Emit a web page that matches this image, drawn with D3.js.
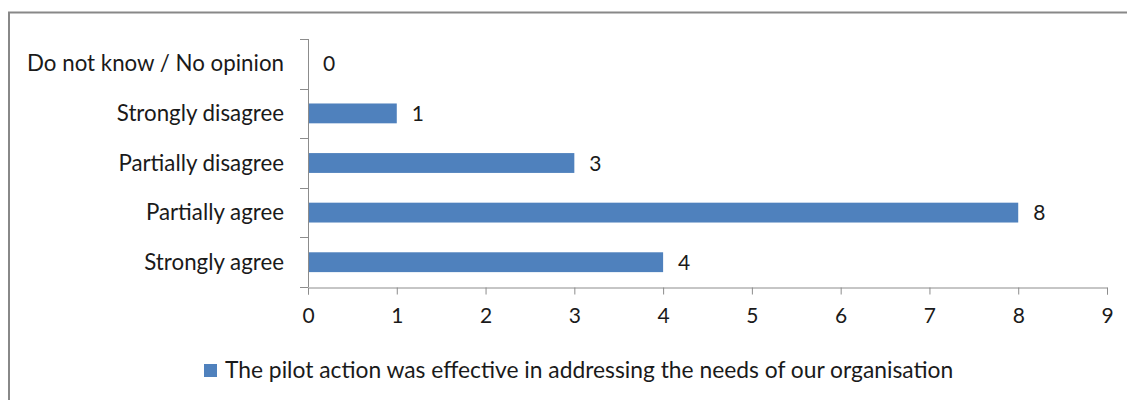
<!DOCTYPE html>
<html>
<head>
<meta charset="utf-8">
<script src="https://cdn.jsdelivr.net/npm/d3@7"></script>
<style>
  html, body { margin: 0; padding: 0; background: #fff; }
  svg { display: block; }
  text { font-family: Lato, "Open Sans", sans-serif; fill: #1a1a1a; }
</style>
</head>
<body>
<svg id="chart" width="1127" height="400"></svg>
<script>
// Survey responses, listed top to bottom
const categories = [
  "Do not know / No opinion",
  "Strongly disagree",
  "Partially disagree",
  "Partially agree",
  "Strongly agree"
];
const counts = [0, 1, 3, 8, 4];
const xTicks = [0, 1, 2, 3, 4, 5, 6, 7, 8, 9];
const seriesName = "The pilot action was effective in addressing the needs of our organisation";

const barColor = "#4F81BD";
const axisColor = "#8c8c8c";

const svg = d3.select("#chart");

// Outer frame
svg.append("rect")
  .attr("x", 9).attr("y", 12.5)
  .attr("width", 1140).attr("height", 420)
  .attr("fill", "none")
  .attr("stroke", "#888")
  .attr("stroke-width", 2);

const plot = { left: 308, right: 1107, top: 39, bottom: 287 };

const x = d3.scaleLinear().domain([0, 9]).range([plot.left, plot.right]);
const y = d3.scaleBand().domain(categories).range([plot.top, plot.bottom]).paddingInner(0.6).paddingOuter(0.3);

// Bars
svg.append("g").selectAll("rect")
  .data(categories)
  .join("rect")
  .attr("x", x(0))
  .attr("y", d => y(d))
  .attr("width", (d, i) => x(counts[i]) - x(0))
  .attr("height", y.bandwidth())
  .attr("fill", barColor);

// Value labels
svg.append("g").selectAll("text")
  .data(categories)
  .join("text")
  .attr("x", (d, i) => x(counts[i]) + 15)
  .attr("y", d => y(d) + y.bandwidth() / 2 + 7.5)
  .attr("font-size", 21)
  .text((d, i) => counts[i]);

// Category axis
const yAxisBand = d3.scaleBand().domain(categories).range([plot.top, plot.bottom]);
const gy = svg.append("g");
gy.append("line")
  .attr("x1", plot.left + 0.5).attr("x2", plot.left + 0.5)
  .attr("y1", plot.top).attr("y2", plot.bottom)
  .attr("stroke", axisColor);
const boundaries = categories.map(c => yAxisBand(c)).concat([plot.bottom]);
gy.selectAll("line.tick")
  .data(boundaries)
  .join("line")
  .attr("class", "tick")
  .attr("x1", plot.left - 8).attr("x2", plot.left)
  .attr("y1", d => Math.round(d) + 0.5).attr("y2", d => Math.round(d) + 0.5)
  .attr("stroke", axisColor);
gy.selectAll("text")
  .data(categories)
  .join("text")
  .attr("x", 284)
  .attr("y", d => yAxisBand(d) + yAxisBand.bandwidth() / 2 + 7.5)
  .attr("text-anchor", "end")
  .attr("font-size", 22.3)
  .text(d => d);

// Value axis
const gx = svg.append("g")
  .attr("transform", `translate(0,${plot.bottom + 0.5})`)
  .call(d3.axisBottom(x).tickValues(xTicks).tickFormat(d3.format("d")).tickSize(7).tickPadding(14));
gx.select(".domain").attr("stroke", axisColor);
gx.selectAll(".tick line").attr("stroke", axisColor);
gx.selectAll(".tick text")
  .attr("font-size", 21)
  .attr("font-family", "Lato, 'Open Sans', sans-serif")
  .attr("fill", "#1a1a1a");

// Legend
const legend = svg.append("g");
legend.append("rect")
  .attr("x", 204).attr("y", 364)
  .attr("width", 13).attr("height", 13)
  .attr("fill", barColor);
legend.append("text")
  .attr("x", 225).attr("y", 377.5)
  .attr("font-size", 22.8)
  .text(seriesName);
</script>
</body>
</html>
